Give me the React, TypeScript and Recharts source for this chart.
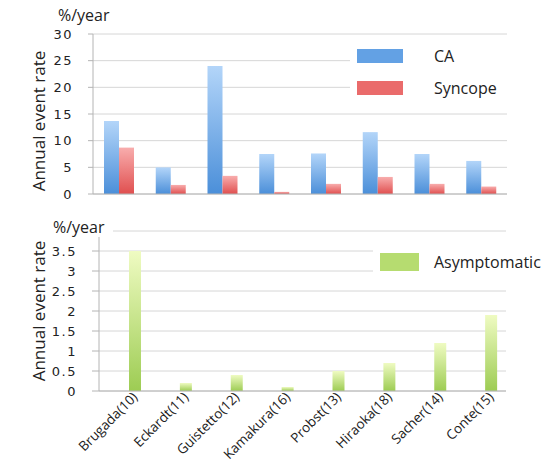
import { BarChart, Bar, XAxis, YAxis, CartesianGrid, Legend, Label, Rectangle } from 'recharts';

const categories = ['Brugada(10)', 'Eckardt(11)', 'Guistetto(12)', 'Kamakura(16)', 'Probst(13)', 'Hiraoka(18)', 'Sacher(14)', 'Conte(15)'];
const caRate = [13.7, 5.0, 24, 7.5, 7.6, 11.6, 7.5, 6.2];
const syncopeRate = [8.7, 1.7, 3.4, 0.4, 1.9, 3.2, 1.9, 1.4];
const asymptomaticRate = [3.5, 0.2, 0.4, 0.1, 0.5, 0.7, 1.2, 1.9];
const topTicks = [0, 5, 10, 15, 20, 25, 30];
const bottomTicks = [0, 0.5, 1, 1.5, 2, 2.5, 3, 3.5];
const bottomGridValues = [0, 0.5, 1, 1.5, 2, 2.5, 3, 3.5, 4];
const edgeTicks = [0, 1, 2, 3, 4, 5, 6, 7, 8];

const topRows = categories.map((name, i) => ({ name, ca: caRate[i], syncope: syncopeRate[i] }));
const bottomRows = categories.map((name, i) => ({ name, asymptomatic: asymptomaticRate[i] }));

const legendSwatch: Record<string, string> = {
  CA: '#63a1e4',
  Syncope: '#ea6b6b',
  Asymptomatic: '#b6dc70',
};

const GRID = '#d6d6d6';
const AXIS = '#b4b4b4';
const TEXT_FONT = '"Open Sans", sans-serif';
const NUM_FONT = '"DejaVu Sans", sans-serif';
const numTick = { fontSize: 13, fontFamily: NUM_FONT, fill: '#222', letterSpacing: 1.5 };

function axisTitle(shiftX: number, shiftY: number) {
  return (props: any) => {
    const vb = props.viewBox;
    const cx = vb.x + shiftX;
    const cy = vb.y + vb.height / 2 + shiftY;
    return (
      <text
        x={cx}
        y={cy}
        transform={`rotate(-90, ${cx}, ${cy})`}
        textAnchor="middle"
        dominantBaseline="central"
        fontSize={17}
        fontFamily={TEXT_FONT}
        fill="#222"
      >
        Annual event rate
      </text>
    );
  };
}

function legendBox(width: number, height: number, swatchW: number, swatchH: number, rowTops: number[], textLeft: number) {
  return (props: any) => (
    <div style={{ position: 'relative', width, height, background: '#fff' }}>
      {(props.payload || []).map((entry: any, i: number) => (
        <div key={entry.value} style={{ position: 'absolute', left: 0, top: rowTops[i], height: swatchH, width }}>
          <div
            style={{
              position: 'absolute',
              left: 7,
              top: 0,
              width: swatchW,
              height: swatchH,
              background: legendSwatch[entry.value],
            }}
          />
          <div
            style={{
              position: 'absolute',
              left: textLeft,
              top: swatchH / 2 - 11,
              lineHeight: '22px',
              fontSize: 16,
              fontFamily: TEXT_FONT,
              color: '#222',
              whiteSpace: 'nowrap',
            }}
          >
            {entry.value}
          </div>
        </div>
      ))}
    </div>
  );
}

const CategoryTick = (props: any) => {
  const { x, y, payload } = props;
  const ax = x + 14;
  const ay = y + 7;
  return (
    <text
      x={ax}
      y={ay}
      transform={`rotate(-45, ${ax}, ${ay})`}
      textAnchor="end"
      fontSize={13.5}
      fontFamily={TEXT_FONT}
      fill="#222"
    >
      {payload.value}
    </text>
  );
};

const ShiftedBar = (props: any) => (
  <Rectangle x={props.x + 11} y={props.y} width={props.width} height={props.height} fill={props.fill} />
);

const unitStyle = {
  position: 'absolute' as const,
  background: '#fff',
  fontSize: 16,
  fontFamily: TEXT_FONT,
  color: '#222',
  lineHeight: '20px',
  paddingRight: 8,
};

export default function App() {
  return (
    <div style={{ position: 'absolute', left: 0, top: 0, width: 545, height: 464, background: '#fff', overflow: 'hidden' }}>
      <div style={{ position: 'absolute', left: 0, top: 0 }}>
        <BarChart width={545} height={210} data={topRows} margin={{ top: 34, right: 38, bottom: 10, left: 53 }} barGap={0}>
          <defs>
            <linearGradient id="caFill" x1="0" y1="0" x2="0" y2="1">
              <stop offset="0%" stopColor="#b3d5f9" />
              <stop offset="100%" stopColor="#4b8fd9" />
            </linearGradient>
            <linearGradient id="syncopeFill" x1="0" y1="0" x2="0" y2="1">
              <stop offset="0%" stopColor="#f8adad" />
              <stop offset="100%" stopColor="#e04f4f" />
            </linearGradient>
          </defs>
          <CartesianGrid vertical={false} stroke={GRID} />
          <XAxis xAxisId="edge" type="number" domain={[0, 8]} ticks={edgeTicks} tick={false} tickSize={5} height={0} axisLine={false} tickLine={{ stroke: AXIS }} />
          <XAxis xAxisId="cat" dataKey="name" tick={false} tickLine={false} height={6} axisLine={{ stroke: AXIS }} />
          <YAxis
            domain={[0, 30]}
            ticks={topTicks}
            interval={0}
            width={40}
            tickSize={5}
            tickMargin={15}
            axisLine={{ stroke: AXIS }}
            tickLine={{ stroke: AXIS }}
            tick={numTick}
          >
            <Label content={axisTitle(-15, 7)} />
          </YAxis>
          <Legend
            layout="vertical"
            align="center"
            verticalAlign="middle"
            wrapperStyle={{ left: 350, top: 40, width: 160, height: 65 }}
            content={legendBox(160, 65, 46, 14, [9, 41], 84)}
          />
          <Bar xAxisId="cat" dataKey="ca" name="CA" fill="url(#caFill)" barSize={15} isAnimationActive={false} />
          <Bar xAxisId="cat" dataKey="syncope" name="Syncope" fill="url(#syncopeFill)" barSize={15} isAnimationActive={false} />
        </BarChart>
        <div style={{ ...unitStyle, left: 58, top: 5 }}>%/year</div>
      </div>

      <div style={{ position: 'absolute', left: 0, top: 210 }}>
        <BarChart width={545} height={254} data={bottomRows} margin={{ top: 21, right: 39, bottom: 13, left: 59 }}>
          <defs>
            <linearGradient id="asymFill" x1="0" y1="0" x2="0" y2="1">
              <stop offset="0%" stopColor="#effbc2" />
              <stop offset="100%" stopColor="#9dcc53" />
            </linearGradient>
          </defs>
          <CartesianGrid vertical={false} stroke={GRID} horizontalValues={bottomGridValues} />
          <XAxis xAxisId="edge" type="number" domain={[0, 8]} ticks={edgeTicks} tick={false} tickSize={5} height={0} axisLine={false} tickLine={{ stroke: AXIS }} />
          <XAxis xAxisId="cat" dataKey="name" tick={<CategoryTick />} tickLine={false} tickSize={0} tickMargin={0} height={60} interval={0} axisLine={{ stroke: AXIS }} />
          <YAxis
            domain={[0, 4]}
            ticks={bottomTicks}
            interval={0}
            width={40}
            tickSize={7}
            tickMargin={15}
            axisLine={{ stroke: AXIS }}
            tickLine={{ stroke: AXIS }}
            tick={numTick}
          >
            <Label content={axisTitle(-21, 0)} />
          </YAxis>
          <Legend
            layout="vertical"
            align="center"
            verticalAlign="middle"
            wrapperStyle={{ left: 373, top: 30, width: 172, height: 40 }}
            content={legendBox(172, 40, 39, 18, [13], 61)}
          />
          <Bar xAxisId="cat" dataKey="asymptomatic" name="Asymptomatic" fill="url(#asymFill)" barSize={12} shape={<ShiftedBar />} isAnimationActive={false} />
        </BarChart>
        <div style={{ ...unitStyle, left: 53, top: 7 }}>%/year</div>
      </div>
    </div>
  );
}
